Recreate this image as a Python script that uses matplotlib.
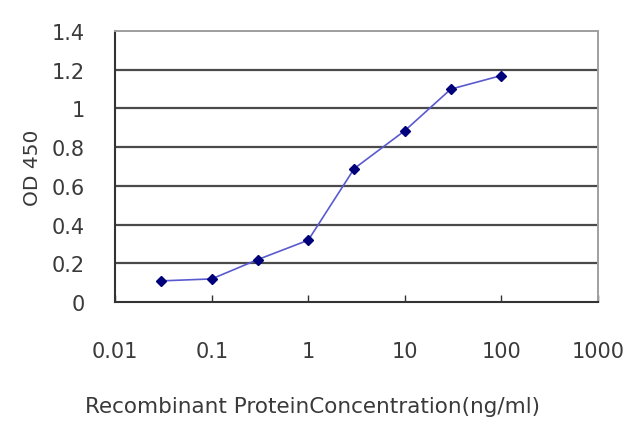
import numpy as np
import matplotlib.pyplot as plt

# concentration (ng/ml) and OD 450 readings
conc = [0.03, 0.1, 0.3, 1, 3, 10, 30, 100]
od450 = [0.11, 0.12, 0.22, 0.32, 0.69, 0.885, 1.10, 1.17]

xticks = [0.01, 0.1, 1, 10, 100, 1000]
xtick_labels = ["0.01", "0.1", "1", "10", "100", "1000"]
yticks = [0, 0.2, 0.4, 0.6, 0.8, 1, 1.2, 1.4]
ytick_labels = ["0", "0.2", "0.4", "0.6", "0.8", "1", "1.2", "1.4"]

plt.rcParams['font.family'] = ['DejaVu Sans']

fig = plt.figure(figsize=(6.4, 4.27), dpi=100)
ax = fig.add_axes([0.18, 0.29, 0.754, 0.635])

for yv in yticks[1:-1]:
    ax.axhline(yv, color='#4a4a4a', lw=1.6, zorder=1)
ax.axhline(1.4, color='#9a9a9a', lw=1.4, zorder=1)

ax.plot(conc, od450, color='#5a5ad0', lw=1.2, zorder=3)
ax.plot(conc, od450, ls='none', marker='D', ms=5.5, color='#00007a', zorder=4)

ax.set_xscale('log')
ax.set_xlim(0.01, 1000)
ax.set_ylim(0, 1.4)
ax.set_xticks(xticks)
ax.set_xticklabels(xtick_labels)
ax.minorticks_off()
ax.set_yticks(yticks)
ax.set_yticklabels(ytick_labels)

ax.tick_params(axis='x', direction='in', length=5, width=1, color='#333333',
               pad=28, labelsize=15, labelcolor='#3a3a3a')
ax.tick_params(axis='y', length=0, pad=22, labelsize=15, labelcolor='#3a3a3a')

for s in ['left', 'bottom']:
    ax.spines[s].set_color('#333333')
    ax.spines[s].set_linewidth(1.5)
for s in ['top', 'right']:
    ax.spines[s].set_color('#a0a0a0')
    ax.spines[s].set_linewidth(1.4)

ax.set_ylabel("OD 450", fontsize=14.5, color='#3a3a3a', labelpad=7)
fig.text(0.488, 0.047, "Recombinant ProteinConcentration(ng/ml)", fontsize=15.5,
         color='#3a3a3a', ha='center', va='center')

fig.savefig("out.png", dpi=100)
